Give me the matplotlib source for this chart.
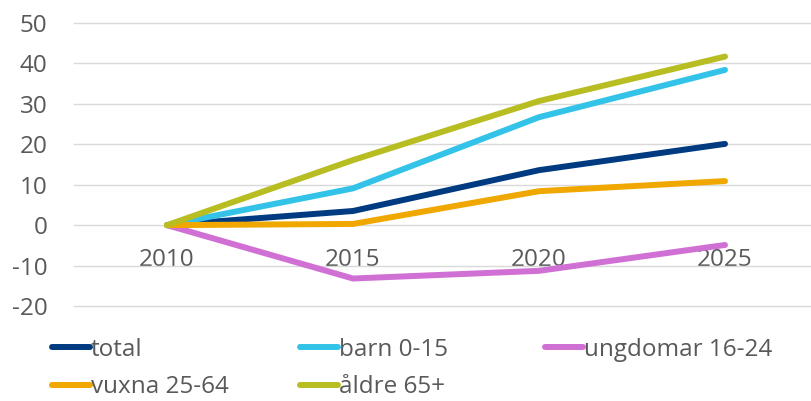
import numpy as np
from matplotlib import pyplot as plt

years = ["2010", "2015", "2020", "2025"]
total = [0, 3.5, 13.6, 20.1]
barn = [0, 9.1, 26.7, 38.4]
ungdomar = [0, -13.2, -11.3, -4.9]
vuxna = [0, 0.3, 8.4, 10.9]
aldre = [0, 16.1, 30.7, 41.7]

series = [("total", total, "#003A80"),
          ("barn 0-15", barn, "#33C3E8"),
          ("ungdomar 16-24", ungdomar, "#D070D4"),
          ("vuxna 25-64", vuxna, "#F0A800"),
          ("åldre 65+", aldre, "#B8BD22")]

plt.rcParams['font.family'] = ['Open Sans', 'DejaVu Sans']
plt.rcParams['axes.unicode_minus'] = False

fig = plt.figure(figsize=(8.11, 4.01), dpi=100)
ax = fig.add_axes([74/811, 0.2369, 744/811, 0.7057])

x = np.arange(len(years))
lines = []
for label, vals, color in series:
    ln, = ax.plot(x, vals, color=color, lw=4.3, solid_capstyle='round',
                  solid_joinstyle='round', label=label)
    lines.append(ln)

ax.set_xlim(-0.5, 3.5)
ax.set_ylim(-20, 50)
ax.set_yticks(range(-20, 51, 10))
ax.set_xticks(x)
ax.set_xticklabels(years)
ax.grid(axis='y', color='#D9D9D9', lw=1)
for gl in ax.get_ygridlines():
    gl.set_clip_on(False)
ax.set_axisbelow(True)
for s in ax.spines.values():
    s.set_visible(False)
ax.spines['bottom'].set_position(('data', 0))
ax.tick_params(axis='both', length=0, labelcolor='#595959', labelsize=17.5)
ax.tick_params(axis='y', pad=19)
ax.tick_params(axis='x', pad=16.5)

# legend: three columns, row-wise order like the original
col_x = [52, 300, 545]
cols = [[0, 3], [1, 4], [2]]
for cx, idx in zip(col_x, cols):
    leg = fig.legend([lines[i] for i in idx], [series[i][0] for i in idx],
                     loc='upper left', bbox_to_anchor=(cx/811, 1 - 338/401),
                     frameon=False, fontsize=17.5, handlelength=1.55,
                     handletextpad=0.05, labelspacing=0.55, borderpad=0,
                     borderaxespad=0, labelcolor='#595959')

fig.savefig("out.png", dpi=100)
